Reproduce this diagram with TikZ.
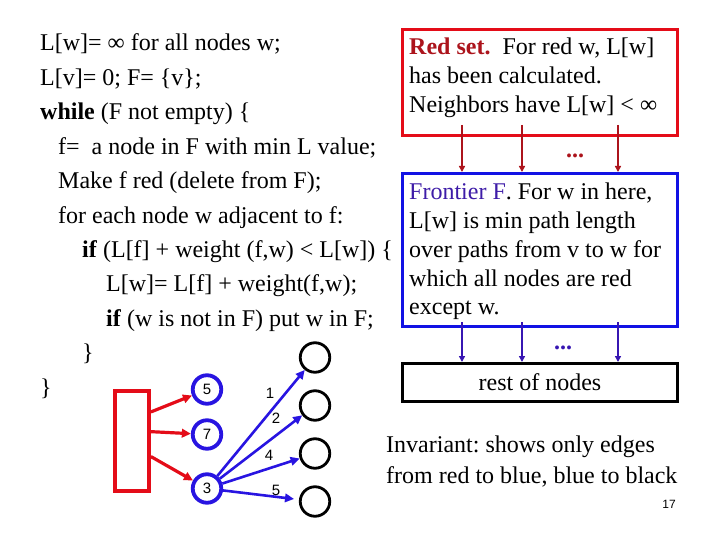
\documentclass[tikz,border=0pt]{standalone}
\usepackage{fontspec}
\setmainfont{Liberation Serif}
\newfontfamily\sfarial{Liberation Sans}
\usetikzlibrary{arrows.meta,calc}
\definecolor{boxred}{RGB}{228,12,24}
\definecolor{darkred}{RGB}{172,20,28}
\definecolor{boxblue}{RGB}{18,18,228}
\definecolor{arrblue}{RGB}{55,22,178}
\definecolor{fronttext}{RGB}{62,28,168}
\definecolor{pureblue}{RGB}{40,20,225}
\frenchspacing
\begin{document}
\begin{tikzpicture}[x=1pt,y=-1pt,
  code/.style={anchor=base west, inner sep=0pt, font=\fontsize{24}{28}\selectfont},
  big/.style={inner sep=0pt, font=\fontsize{24}{28}\selectfont},
  setbox/.style={draw, line width=3pt, inner sep=0pt, minimum width=275pt},
  smallarrow/.style={line width=1.8pt, -{Triangle[length=6pt,width=6pt]}},
  bigarrow/.style={line width=3.2pt, -{Triangle[length=9pt,width=8.5pt]}},
  bluecirc/.style={circle, draw=pureblue, line width=3.8pt, minimum size=28.5pt, inner sep=0pt, font=\sfarial\fontsize{15}{18}\selectfont},
  blackcirc/.style={circle, draw=black, line width=2.8pt, minimum size=29.5pt, inner sep=0pt},
  wlabel/.style={inner sep=0pt, font=\sfarial\fontsize{15}{18}\selectfont}]
\useasboundingbox[fill=white] (0,0) rectangle (720,540);

% code
\node[code] (l1) at (40,51) {L[w]= ∞ for all nodes w;};
\node[code] (l2) at (40,85.4) {L[v]= 0; F= \{v\};};
\node[code] (l3) at (40,119.8) {\textbf{while} (F not empty) \{};
\node[code] (l4) at (58,154.2) {f=\ \ a node in F with min L value;};
\node[code] (l5) at (58,188.6) {Make f red (delete from F);};
\node[code] (l6) at (58,223) {for each node w adjacent to f:};
\node[code] (l7) at (82,257.4) {\textbf{if} (L[f] + weight (f,w) < L[w]) \{};
\node[code] (l8) at (106,291.8) {L[w]= L[f] + weight(f,w);};
\node[code] (l9) at (106,326.2) {\textbf{if} (w is not in F) put w in F;};
\node[code] (l10) at (82,360.6) {\}};
\node[code] (l11) at (40,395) {\}};

% boxes
\node[setbox, draw=boxred, minimum height=106pt] (red) at (540,82.5) {};
\node[setbox, draw=boxblue, minimum height=153pt] (blue) at (540,250) {};
\node[setbox, draw=black, minimum height=38pt] (rest) at (540,382.5) {};

\node[code] (r1) at (409,55) {\textcolor{darkred}{\textbf{Red set.}}\ \ For red w, L[w]};
\node[code] (r2) at (409,84) {has been calculated.};
\node[code] (r3) at (409,113) {Neighbors have L[w] < ∞};

\node[code] (b1) at (409,200) {\textcolor{fronttext}{Frontier F}. For w in here,};
\node[code] (b2) at (409,228.7) {L[w] is min path length};
\node[code] (b3) at (409,257.4) {over paths from v to w for};
\node[code] (b4) at (409,286.1) {which all nodes are red};
\node[code] (b5) at (409,314.8) {except w.};

\node[big, anchor=base] (restt) at (540,390) {rest of nodes};

% arrows between boxes
\coordinate (ra1) at (462,125);
\coordinate (ra2) at (522,125);
\coordinate (ra3) at (618,125);
\foreach \c in {ra1,ra2,ra3}
  \draw[smallarrow, darkred] (\c) -- (\c |- blue.north);
\node[big, anchor=base, text=darkred] (rdots) at (575,158) {\textbf{...}};

\coordinate (ba1) at (462,322);
\coordinate (ba2) at (522,322);
\coordinate (ba3) at (618,322);
\foreach \c in {ba1,ba2,ba3}
  \draw[smallarrow, arrblue] (\c) -- (\c |- rest.north);
\node[big, anchor=base, text=arrblue] (bdots) at (563,349.5) {\textbf{...}};

% small graph
\node[draw=boxred, line width=3.8pt, minimum width=34pt, minimum height=100pt, inner sep=0pt] (rect) at (132,441) {};
\node[bluecirc] (c5) at (207,389.5) {5};
\node[bluecirc] (c7) at (207,434.5) {7};
\node[bluecirc] (c3) at (207,488.5) {3};
\node[blackcirc] (k1) at (315,357.5) {};
\node[blackcirc] (k2) at (315,405.5) {};
\node[blackcirc] (k3) at (315,453.5) {};
\node[blackcirc] (k4) at (315,501.5) {};

\draw[bigarrow, boxred] ($(rect.north east)!0.22!(rect.south east)$) -- (c5);
\draw[bigarrow, boxred] ($(rect.north east)!0.41!(rect.south east)$) -- (c7);
\draw[bigarrow, boxred] ($(rect.north east)!0.65!(rect.south east)$) -- (c3);

\draw[bigarrow, pureblue, line width=2.6pt] (c3) -- (k1);
\draw[bigarrow, pureblue, line width=2.6pt] (c3) -- (k2);
\draw[bigarrow, pureblue, line width=2.6pt] (c3) -- (k3);
\draw[bigarrow, pureblue, line width=2.6pt, shorten >=5pt] (c3) -- (k4);

\node[wlabel] (w1) at (270,393) {1};
\node[wlabel] (w2) at (276,418) {2};
\node[wlabel] (w4) at (269,455) {4};
\node[wlabel] (w5) at (276,490) {5};

% invariant
\node[code] (inv1) at (386,452) {Invariant: shows only edges};
\node[code] (inv2) at (386,483) {from red to blue, blue to black};
\node[anchor=base east, inner sep=0pt, font=\sfarial\fontsize{12}{14}\selectfont] (pg) at (676,508) {17};
\end{tikzpicture}
\end{document}
